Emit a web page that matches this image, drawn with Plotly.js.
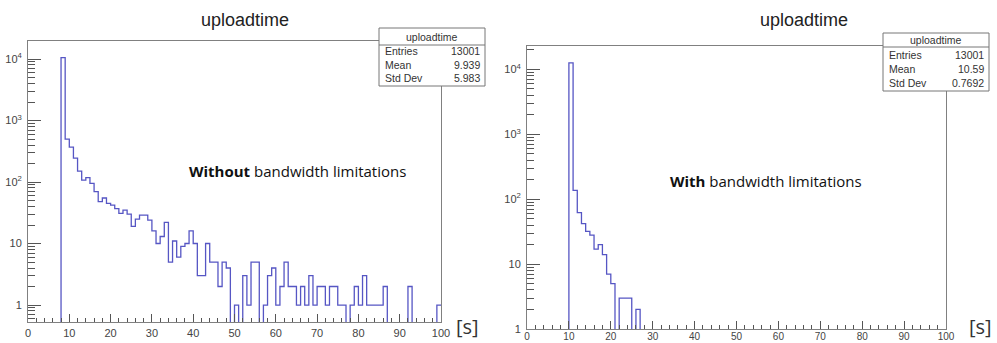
<!DOCTYPE html>
<html><head><meta charset="utf-8">
<script src="https://cdn.plot.ly/plotly-3.0.1.min.js"></script>
<style>html,body{margin:0;padding:0;background:#fff}#chart{width:997px;height:343px}</style>
</head><body><div id="chart"></div>
<script>
// ---- data ----
const binLow = 0, binHigh = 100;            // histogram x range, 100 bins of 1 s
const countsWithout = [
  0,0,0,0,0,0,0,0,10500,500,
  370,245,150,107,118,95,70,48,55,45,
  42,37,31,35,30,19,25,29,29,24,
  16,10,13,22,5,11,6,9,10,16,
  10,3,3,10,5,5,2,5,4,0,
  1,0,3,1,5,5,0,1,3,4,
  1,2,5,2,2,1,2,1,3,1,
  2,2,1,2,2,1,1,0,1,2,
  1,3,1,1,1,1,2,0,0,0,
  0,0,2,0,0,0,0,0,0,1
];
const countsWith = [
  0,0,0,0,0,0,0,0,0,0,
  12620,137,62,42,32,28,17,20,14,7,
  5,0,3,3,3,0,2,0,0,0,
  0,0,0,0,0,0,0,0,0,0,
  0,0,0,0,0,0,0,0,0,0,
  0,0,0,0,0,0,0,0,0,0,
  0,0,0,0,0,0,0,0,0,0,
  0,0,0,0,0,0,0,0,0,0,
  0,0,0,0,0,0,0,0,0,0,
  0,0,0,0,0,0,0,0,0,0
];
const histName = 'uploadtime';
const statLabels = ['Entries','Mean','Std Dev'];
const statsWithout = ['13001','9.939','5.983'];
const statsWith = ['13001','10.59','0.7692'];
const xTickVals = [0,10,20,30,40,50,60,70,80,90,100];
const yTickVals = [1,10,100,1000,10000];
const yTickText = ['1','10','10<sup>2</sup>','10<sup>3</sup>','10<sup>4</sup>'];
const noteWithout = '<b>Without</b> bandwidth limitations';
const noteWith = '<b>With</b> bandwidth limitations';
const unitLabel = '[s]';

// ---- helpers ----
const W = 997, H = 343;
const px = x => x / W, py = y => 1 - y / H;
const nb = countsWithout.length;
const edges = [];
for (let i = 0; i <= nb; i++) edges.push(binLow + (binHigh - binLow) * i / nb);
function stepY(c) { // ROOT draws empty bins down to the bottom of a log pad
  const y = c.map(v => v > 0 ? v : 1e-3);
  y.push(y[y.length - 1]);
  return y;
}
const xMinor = [];
for (let v = binLow; v <= binHigh; v += 2) if (v % 10) xMinor.push(v);
const yMinor = [];
for (let e = -1; e <= 4; e++) for (let m = 2; m <= 9; m++) yMinor.push(m * Math.pow(10, e));

const lineCol = '#5656c4';
const frameCol = '#808080';
const tickFont = {family: 'Liberation Sans, Arial, sans-serif', size: 11, color: '#444'};

function xAx(d0, d1, anchor, fsize, standoff) {
  return {domain: [px(d0), px(d1)], range: [binLow, binHigh], anchor: anchor,
    tickmode: 'array', tickvals: xTickVals, ticks: 'inside', ticklen: 8, tickwidth: 1, tickcolor: '#555',
    minor: {tickmode: 'array', tickvals: xMinor, ticks: 'inside', ticklen: 4, tickwidth: 1, tickcolor: '#555'},
    showline: true, mirror: true, linecolor: frameCol, linewidth: 1,
    showgrid: false, zeroline: false, tickfont: Object.assign({}, tickFont, {size: fsize}),
    ticklabelstandoff: standoff};
}
function yAx(d0, d1, r, anchor) {
  return {type: 'log', domain: [py(d1), py(d0)], range: r, anchor: anchor,
    tickmode: 'array', tickvals: yTickVals, ticktext: yTickText,
    ticks: 'inside', ticklen: 13, tickwidth: 1, tickcolor: '#555',
    minor: {tickmode: 'array', tickvals: yMinor, ticks: 'inside', ticklen: 7, tickwidth: 1, tickcolor: '#555'},
    showline: true, mirror: true, linecolor: frameCol, linewidth: 1,
    showgrid: false, zeroline: false, tickfont: tickFont, ticklabelstandoff: 3};
}

const traces = [
  {x: edges, y: stepY(countsWithout), type: 'scatter', mode: 'lines',
   line: {shape: 'hv', color: lineCol, width: 1.3}, xaxis: 'x', yaxis: 'y', hoverinfo: 'skip'},
  {x: edges, y: stepY(countsWith), type: 'scatter', mode: 'lines',
   line: {shape: 'hv', color: lineCol, width: 1.3}, xaxis: 'x2', yaxis: 'y2', hoverinfo: 'skip'}
];

const shapes = [], annotations = [];
function statBox(x0, x1, y0, ySep, y1, rowsY, headY, vals) {
  shapes.push({type: 'rect', xref: 'paper', yref: 'paper', x0: px(x0), x1: px(x1), y0: py(y1), y1: py(y0),
    line: {color: '#777', width: 1}, fillcolor: '#fff', layer: 'above'});
  shapes.push({type: 'line', xref: 'paper', yref: 'paper', x0: px(x0), x1: px(x1), y0: py(ySep), y1: py(ySep),
    line: {color: '#777', width: 1}, layer: 'above'});
  const f = {family: 'Liberation Sans, Arial, sans-serif', size: 10.5, color: '#333'};
  annotations.push({text: histName, xref: 'paper', yref: 'paper', x: px((x0 + x1) / 2), y: py(headY),
    xanchor: 'center', yanchor: 'middle', showarrow: false, font: f});
  statLabels.forEach((l, i) => {
    annotations.push({text: l, xref: 'paper', yref: 'paper', x: px(x0 + 4), y: py(rowsY[i]),
      xanchor: 'left', yanchor: 'middle', showarrow: false, font: f});
    annotations.push({text: vals[i], xref: 'paper', yref: 'paper', x: px(x1 - 3), y: py(rowsY[i]),
      xanchor: 'right', yanchor: 'middle', showarrow: false, font: f});
  });
}
statBox(379, 485, 28, 45, 86, [51, 64.5, 78.5], 36.5, statsWithout);
statBox(883, 989, 33, 47, 91, [55, 69, 83], 40, statsWith);

function txt(text, x, y, xa, font) {
  annotations.push({text: text, xref: 'paper', yref: 'paper', x: px(x), y: py(y),
    xanchor: xa, yanchor: 'middle', showarrow: false, font: font});
}
const titleFont = {family: 'Liberation Sans, Arial, sans-serif', size: 18, color: '#222'};
txt(histName, 245, 20, 'center', titleFont);
txt(histName, 804, 20, 'center', titleFont);
const noteFont = {family: 'Open Sans, sans-serif', size: 15, color: '#111'};
txt(noteWithout, 187, 171, 'left', noteFont);
txt(noteWith, 668, 181, 'left', noteFont);
const unitFont = {family: 'Open Sans, sans-serif', size: 20, color: '#333'};
txt(unitLabel, 467, 326, 'center', unitFont);
txt(unitLabel, 980, 326, 'center', unitFont);

const layout = {
  width: W, height: H, margin: {l: 0, r: 0, t: 0, b: 0},
  paper_bgcolor: '#fff', plot_bgcolor: '#fff', showlegend: false,
  xaxis: xAx(28, 441, 'y', 11, 1),
  yaxis: yAx(41, 322, [-0.276, 4.293], 'x'),
  xaxis2: xAx(527, 946, 'y2', 10, -2),
  yaxis2: yAx(46, 329, [0, 4.36], 'x2'),
  shapes: shapes, annotations: annotations
};
Plotly.newPlot('chart', traces, layout, {staticPlot: true});
</script></body></html>
